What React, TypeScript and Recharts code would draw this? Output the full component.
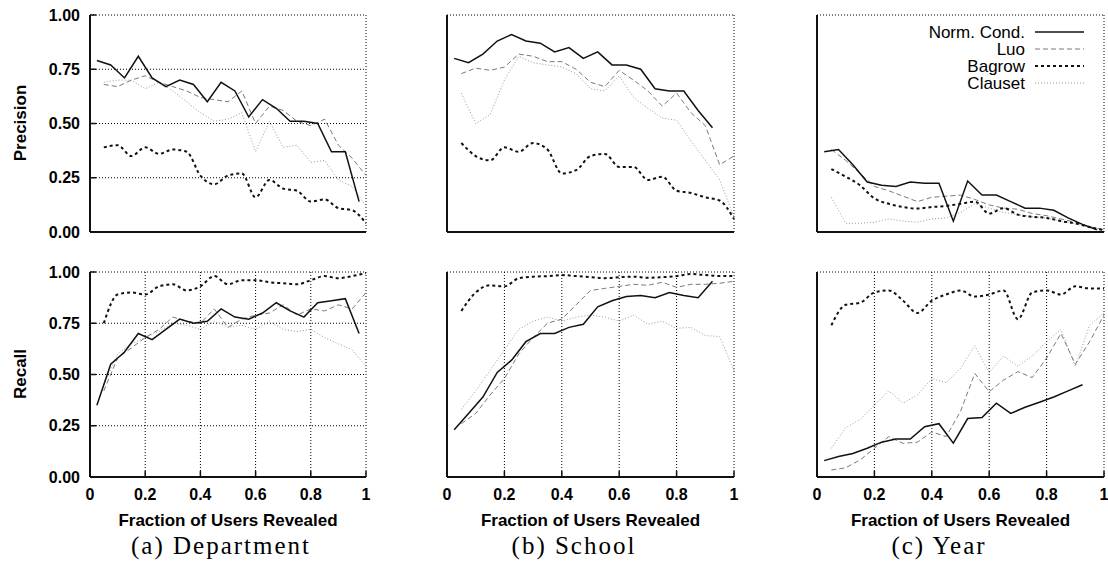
import React from "react";
import { CartesianGrid, Line, LineChart, XAxis, YAxis } from "recharts";

// Norm. Cond. is sampled half a step earlier than the other three methods.
const X_NORM = [0.025, 0.075, 0.125, 0.175, 0.225, 0.275, 0.325, 0.375, 0.425, 0.475, 0.525, 0.575, 0.625, 0.675, 0.725, 0.775, 0.825, 0.875, 0.925, 0.975];
const X_OTHER = [0.05, 0.1, 0.15, 0.2, 0.25, 0.3, 0.35, 0.4, 0.45, 0.5, 0.55, 0.6, 0.65, 0.7, 0.75, 0.8, 0.85, 0.9, 0.95, 1];

const X_TICKS = [0, 0.2, 0.4, 0.6, 0.8, 1];
const Y_TICKS = [0, 0.25, 0.5, 0.75, 1];

// (a) Department
const deptPrecNorm = [0.79, 0.77, 0.71, 0.81, 0.71, 0.67, 0.7, 0.68, 0.6, 0.69, 0.65, 0.53, 0.61, 0.57, 0.51, 0.51, 0.5, 0.37, 0.37, 0.14];
const deptPrecLuo = [0.68, 0.67, 0.7, 0.72, 0.69, 0.67, 0.65, 0.62, 0.61, 0.6, 0.65, 0.5, 0.58, 0.56, 0.51, 0.49, 0.52, 0.4, 0.34, 0.26];
const deptPrecBagrow = [0.39, 0.4, 0.35, 0.39, 0.36, 0.38, 0.37, 0.26, 0.22, 0.26, 0.27, 0.16, 0.24, 0.2, 0.19, 0.14, 0.15, 0.11, 0.1, 0.04];
const deptPrecClauset = [0.69, 0.7, 0.7, 0.66, 0.69, 0.65, 0.6, 0.55, 0.51, 0.52, 0.55, 0.37, 0.51, 0.39, 0.4, 0.32, 0.33, 0.24, 0.21, 0.12];
const deptRecNorm = [0.35, 0.55, 0.61, 0.7, 0.67, 0.72, 0.77, 0.75, 0.76, 0.82, 0.78, 0.77, 0.8, 0.85, 0.81, 0.78, 0.85, 0.86, 0.87, 0.7];
const deptRecLuo = [0.42, 0.58, 0.63, 0.68, 0.72, 0.78, 0.76, 0.75, 0.82, 0.73, 0.77, 0.79, 0.8, 0.84, 0.79, 0.82, 0.81, 0.84, 0.82, 0.9];
const deptRecBagrow = [0.75, 0.89, 0.9, 0.89, 0.93, 0.94, 0.91, 0.93, 0.98, 0.94, 0.96, 0.96, 0.95, 0.945, 0.94, 0.96, 0.98, 0.97, 0.98, 0.995];
const deptRecClauset = [0.45, 0.6, 0.65, 0.68, 0.71, 0.75, 0.74, 0.72, 0.76, 0.73, 0.74, 0.72, 0.76, 0.72, 0.71, 0.72, 0.68, 0.65, 0.62, 0.54];

// (b) School
const schPrecNorm = [0.8, 0.78, 0.82, 0.88, 0.91, 0.88, 0.87, 0.83, 0.85, 0.8, 0.83, 0.77, 0.77, 0.75, 0.66, 0.65, 0.65, 0.56, 0.48, null];
const schPrecLuo = [0.73, 0.755, 0.745, 0.76, 0.82, 0.81, 0.785, 0.785, 0.75, 0.69, 0.67, 0.745, 0.7, 0.65, 0.58, 0.64, 0.55, 0.49, 0.31, 0.35];
const schPrecBagrow = [0.41, 0.35, 0.33, 0.39, 0.37, 0.41, 0.38, 0.27, 0.285, 0.35, 0.36, 0.3, 0.3, 0.24, 0.255, 0.19, 0.18, 0.16, 0.145, 0.06];
const schPrecClauset = [0.64, 0.5, 0.54, 0.7, 0.81, 0.78, 0.77, 0.76, 0.73, 0.66, 0.65, 0.72, 0.62, 0.57, 0.525, 0.515, 0.42, 0.33, 0.24, 0.07];
const schRecNorm = [0.23, 0.31, 0.39, 0.51, 0.57, 0.66, 0.7, 0.7, 0.73, 0.745, 0.83, 0.86, 0.88, 0.885, 0.875, 0.9, 0.885, 0.875, 0.955, null];
const schRecLuo = [0.26, 0.31, 0.4, 0.48, 0.6, 0.68, 0.75, 0.77, 0.84, 0.91, 0.92, 0.93, 0.94, 0.935, 0.95, 0.925, 0.94, 0.94, 0.945, 0.955];
const schRecBagrow = [0.81, 0.9, 0.935, 0.93, 0.97, 0.977, 0.98, 0.985, 0.98, 0.975, 0.97, 0.975, 0.977, 0.972, 0.975, 0.98, 0.99, 0.985, 0.98, 0.98];
const schRecClauset = [0.33, 0.42, 0.52, 0.62, 0.72, 0.76, 0.78, 0.76, 0.78, 0.79, 0.78, 0.76, 0.79, 0.745, 0.76, 0.725, 0.73, 0.69, 0.685, 0.52];

// (c) Year
const yrPrecNorm = [0.37, 0.38, 0.31, 0.23, 0.215, 0.21, 0.23, 0.225, 0.225, 0.05, 0.235, 0.17, 0.17, 0.14, 0.11, 0.11, 0.1, 0.065, 0.035, 0.01];
const yrPrecLuo = [0.38, 0.33, 0.27, 0.21, 0.19, 0.165, 0.14, 0.16, 0.165, 0.17, 0.15, 0.125, 0.11, 0.105, 0.085, 0.075, 0.06, 0.045, 0.025, 0.01];
const yrPrecBagrow = [0.29, 0.255, 0.215, 0.155, 0.13, 0.115, 0.108, 0.115, 0.12, 0.13, 0.14, 0.085, 0.11, 0.08, 0.07, 0.065, 0.05, 0.04, 0.023, 0.008];
const yrPrecClauset = [0.16, 0.04, 0.04, 0.045, 0.06, 0.05, 0.045, 0.06, 0.065, 0.09, 0.13, 0.11, 0.09, 0.08, 0.07, 0.065, 0.05, 0.037, 0.022, 0.008];
const yrRecNorm = [0.08, 0.1, 0.115, 0.14, 0.17, 0.185, 0.185, 0.245, 0.26, 0.165, 0.285, 0.29, 0.36, 0.31, 0.34, 0.365, 0.39, 0.42, 0.45, null];
const yrRecLuo = [0.034, 0.045, 0.083, 0.14, 0.197, 0.164, 0.17, 0.22, 0.197, 0.32, 0.505, 0.416, 0.473, 0.514, 0.485, 0.58, 0.7, 0.55, 0.66, 0.79];
const yrRecBagrow = [0.74, 0.84, 0.85, 0.9, 0.91, 0.86, 0.8, 0.86, 0.89, 0.91, 0.88, 0.89, 0.91, 0.77, 0.9, 0.91, 0.89, 0.93, 0.92, 0.92];
const yrRecClauset = [0.14, 0.24, 0.28, 0.35, 0.42, 0.36, 0.4, 0.48, 0.46, 0.53, 0.64, 0.51, 0.59, 0.54, 0.59, 0.66, 0.72, 0.54, 0.74, 0.8];

const SANS = "'Liberation Sans', Arial, Helvetica, sans-serif";
const SERIF = "'Liberation Serif', 'Times New Roman', serif";

// gnuplot-ish monochrome styles
const STYLES = {
  norm: { stroke: "#111", strokeWidth: 1.5, dash: undefined as string | undefined, type: "linear" as const },
  luo: { stroke: "#7a7a7a", strokeWidth: 1, dash: "5 3", type: "linear" as const },
  bagrow: { stroke: "#111", strokeWidth: 2, dash: "3 3", type: "monotone" as const },
  clauset: { stroke: "#9a9a9a", strokeWidth: 1, dash: "1 2", type: "linear" as const },
};

type Num = number | null;
type Row = { x: number; norm?: number; luo?: number; bagrow?: number; clauset?: number };

function buildRows(norm: Num[], luo: Num[], bagrow: Num[], clauset: Num[]): Row[] {
  const rows: Row[] = [];
  X_NORM.forEach((x, i) => {
    if (norm[i] != null) rows.push({ x, norm: norm[i] as number });
  });
  X_OTHER.forEach((x, i) => {
    rows.push({ x, luo: luo[i] ?? undefined, bagrow: bagrow[i] ?? undefined, clauset: clauset[i] ?? undefined });
  });
  return rows.sort((a, b) => a.x - b.x);
}

const COLS = [
  { left: 90, width: 276 },
  { left: 447, width: 287 },
  { left: 817, width: 287 },
];
const ROWS = [
  { top: 15, height: 217 },
  { top: 272, height: 205 },
];

const PANELS = [
  { col: 0, row: 0, data: buildRows(deptPrecNorm, deptPrecLuo, deptPrecBagrow, deptPrecClauset) },
  { col: 0, row: 1, data: buildRows(deptRecNorm, deptRecLuo, deptRecBagrow, deptRecClauset) },
  { col: 1, row: 0, data: buildRows(schPrecNorm, schPrecLuo, schPrecBagrow, schPrecClauset) },
  { col: 1, row: 1, data: buildRows(schRecNorm, schRecLuo, schRecBagrow, schRecClauset) },
  { col: 2, row: 0, data: buildRows(yrPrecNorm, yrPrecLuo, yrPrecBagrow, yrPrecClauset) },
  { col: 2, row: 1, data: buildRows(yrRecNorm, yrRecLuo, yrRecBagrow, yrRecClauset) },
];

const tickFont = { fill: "#000", fontSize: 16, fontFamily: SANS, fontWeight: 700 };
const axisLine = { stroke: "#111", strokeWidth: 2 };
const tickLine = { stroke: "#111", strokeWidth: 1.5 };

function Panel({ col, row, data }: { col: number; row: number; data: Row[] }) {
  const { left, width } = COLS[col];
  const { top, height } = ROWS[row];
  const showY = col === 0;
  const showX = row === 1;
  const padL = showY ? 70 : 10;
  const padR = 10;
  const padT = 12;
  const padB = showX ? 30 : 12;

  return (
    <div style={{ position: "absolute", left: left - padL, top: top - padT }}>
      <LineChart
        width={padL + width + padR}
        height={padT + height + padB}
        data={data}
        margin={{ top: padT, right: padR, left: 0, bottom: 0 }}
      >
        <CartesianGrid stroke="#000" strokeWidth={1} strokeDasharray="1 2" />
        <XAxis
          dataKey="x"
          type="number"
          domain={[0, 1]}
          ticks={X_TICKS}
          interval={0}
          height={padB}
          tickSize={-6}
          tickMargin={18}
          axisLine={axisLine}
          tickLine={tickLine}
          tick={showX ? tickFont : false}
          tickFormatter={(v: number) => String(v)}
        />
        <XAxis xAxisId="top" orientation="top" dataKey="x" type="number" domain={[0, 1]} ticks={X_TICKS} interval={0} height={0} tickSize={-6} axisLine={axisLine} tickLine={tickLine} tick={false} />
        <YAxis
          type="number"
          domain={[0, 1]}
          ticks={Y_TICKS}
          interval={0}
          width={padL}
          tickSize={-6}
          tickMargin={16}
          axisLine={axisLine}
          tickLine={tickLine}
          tick={showY ? tickFont : false}
          tickFormatter={(v: number) => v.toFixed(2)}
        />
        <YAxis yAxisId="right" orientation="right" type="number" domain={[0, 1]} ticks={Y_TICKS} interval={0} width={0} tickSize={-6} axisLine={axisLine} tickLine={tickLine} tick={false} />
        {(["clauset", "luo", "bagrow", "norm"] as const).map((key) => (
          <Line
            key={key}
            dataKey={key}
            type={STYLES[key].type}
            stroke={STYLES[key].stroke}
            strokeWidth={STYLES[key].strokeWidth}
            strokeDasharray={STYLES[key].dash}
            dot={false}
            connectNulls
            isAnimationActive={false}
          />
        ))}
      </LineChart>
    </div>
  );
}

const LEGEND = [
  { key: "norm" as const, label: "Norm. Cond." },
  { key: "luo" as const, label: "Luo" },
  { key: "bagrow" as const, label: "Bagrow" },
  { key: "clauset" as const, label: "Clauset" },
];

function KeyBox() {
  // gnuplot key: white box blanking the grid in the top-right of (c)
  return (
    <svg style={{ position: "absolute", left: 906, top: 22 }} width={194} height={71}>
      <rect x={0} y={0} width={194} height={71} fill="#fff" />
      {LEGEND.map((e, i) => {
        const y = 10 + i * 17;
        const s = STYLES[e.key];
        return (
          <g key={e.key}>
            <text x={119} y={y} dy="0.36em" textAnchor="end" fontFamily={SANS} fontSize={17} fill="#000">
              {e.label}
            </text>
            <line x1={129} x2={178} y1={y} y2={y} stroke={s.stroke} strokeWidth={s.strokeWidth} strokeDasharray={s.dash} />
          </g>
        );
      })}
    </svg>
  );
}

const CAPTIONS = ["(a) Department", "(b) School", "(c) Year"];
const CAPTION_X = [221, 574, 939];

export default function App() {
  return (
    <div style={{ position: "absolute", left: 0, top: 0, width: 1108, height: 562, overflow: "hidden", background: "#fff" }}>
      {PANELS.map((p) => (
        <Panel key={`${p.col}-${p.row}`} {...p} />
      ))}
      <KeyBox />
      {[
        { text: "Precision", y: 123 },
        { text: "Recall", y: 374 },
      ].map((l) => (
        <div
          key={l.text}
          style={{
            position: "absolute",
            left: 20,
            top: l.y,
            transform: "translate(-50%, -50%) rotate(-90deg)",
            fontFamily: SANS,
            fontWeight: 700,
            fontSize: 17,
            lineHeight: 1,
            whiteSpace: "nowrap",
          }}
        >
          {l.text}
        </div>
      ))}
      {COLS.map((c, i) => (
        <div
          key={i}
          style={{
            position: "absolute",
            left: c.left + c.width / 2,
            top: 512,
            transform: "translateX(-50%)",
            fontFamily: SANS,
            fontWeight: 700,
            fontSize: 17,
            lineHeight: 1,
            whiteSpace: "nowrap",
          }}
        >
          Fraction of Users Revealed
        </div>
      ))}
      {CAPTIONS.map((t, i) => (
        <div
          key={t}
          style={{
            position: "absolute",
            left: CAPTION_X[i],
            top: 533,
            transform: "translateX(-50%)",
            fontFamily: SERIF,
            fontSize: 25,
            letterSpacing: 2,
            lineHeight: 1,
            whiteSpace: "nowrap",
          }}
        >
          {t}
        </div>
      ))}
    </div>
  );
}
